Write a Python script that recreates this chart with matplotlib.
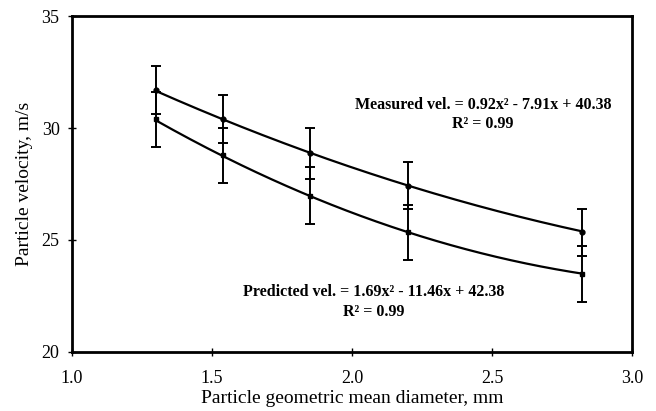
import numpy as np
import matplotlib
matplotlib.use("Agg")
import matplotlib.pyplot as plt

# --------------------
# Données
# --------------------
diameter = [1.30, 1.54, 1.85, 2.20, 2.82]          # mm
measured_vel = [31.70, 30.39, 28.87, 27.42, 25.34]  # m/s
measured_err = [1.07, 1.08, 1.14, 1.05, 1.04]
predicted_vel = [30.40, 28.79, 26.98, 25.34, 23.47]
predicted_err = [1.23, 1.23, 1.27, 1.23, 1.25]

# coefficients des courbes de tendance (affichés sur le graphique)
measured_fit = [0.92, -7.91, 40.38]
predicted_fit = [1.69, -11.46, 42.38]

plt.rcParams["font.family"] = ["Liberation Serif", "DejaVu Serif"]

fig = plt.figure(figsize=(6.56, 4.11), dpi=100)
ax = fig.add_axes([0.1098, 0.1436, 0.8536, 0.8174])

# courbes de tendance polynomiales
xs = np.linspace(diameter[0], diameter[-1], 200)
ax.plot(xs, np.polyval(measured_fit, xs), color="black", lw=1.6, zorder=2)
ax.plot(xs, np.polyval(predicted_fit, xs), color="black", lw=1.6, zorder=2)

# points et barres d'erreur
ax.errorbar(diameter, measured_vel, yerr=measured_err, fmt="o", ms=3.5,
            color="black", ecolor="black", elinewidth=1.4, capsize=3.5,
            capthick=1.4, zorder=3)
ax.errorbar(diameter, predicted_vel, yerr=predicted_err, fmt="s", ms=3.5,
            color="black", ecolor="black", elinewidth=1.4, capsize=3.5,
            capthick=1.4, zorder=3)

# équations
eq_style = dict(ha="center", va="center", fontsize=11.5, fontweight="bold")
ax.text(2.468, 31.03, "Measured vel. = 0.92x² - 7.91x + 40.38", **eq_style)
ax.text(2.468, 30.18, "R² = 0.99", **eq_style)
ax.text(2.079, 22.68, "Predicted vel. = 1.69x² - 11.46x + 42.38", **eq_style)
ax.text(2.079, 21.79, "R² = 0.99", **eq_style)

ax.set_xlim(1.0, 3.0)
ax.set_ylim(20, 35)
ax.set_xticks([1.0, 1.5, 2.0, 2.5, 3.0])
ax.set_yticks([20, 25, 30, 35])
ax.set_xticklabels(["1.0", "1.5", "2.0", "2.5", "3.0"])
ax.tick_params(direction="inout", length=6, width=1, labelsize=13,
               colors="black")
ax.tick_params(axis="x", pad=10)
ax.tick_params(axis="y", pad=6)
for s in ax.spines.values():
    s.set_linewidth(2)

ax.set_xlabel("Particle geometric mean diameter, mm", fontsize=14, labelpad=2)
ax.set_ylabel("Particle velocity, m/s", fontsize=14, labelpad=6)

plt.savefig("out.png", dpi=100)
